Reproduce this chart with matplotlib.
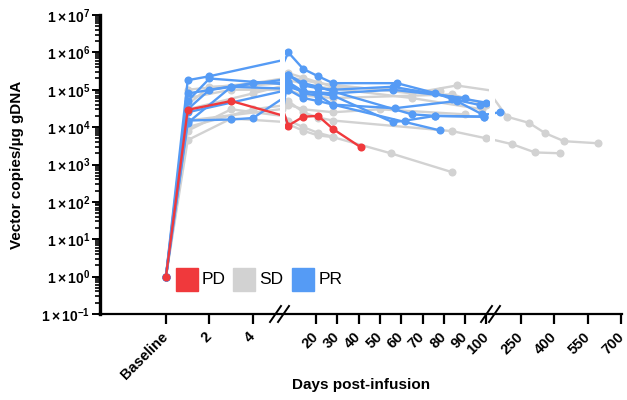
import numpy as np
import matplotlib
matplotlib.use('Agg')
import matplotlib.pyplot as plt
from matplotlib.lines import Line2D
from matplotlib.patches import Rectangle
from matplotlib.ticker import LogLocator, FuncFormatter, NullFormatter

plt.rcParams['font.family'] = ['Liberation Sans', 'DejaVu Sans']
plt.rcParams['mathtext.fontset'] = 'custom'
plt.rcParams['mathtext.rm'] = 'Liberation Sans:bold'
plt.rcParams['mathtext.it'] = 'Liberation Sans:bold'
plt.rcParams['mathtext.bf'] = 'Liberation Sans:bold'

# ---------------- data (days post-infusion, vector copies / ug gDNA) ----------------
pd1_days = [0, 1, 3, 7, 14, 21, 28, 41]
pd1_vcn = [1, 2.9e4, 5.0e4, 1.1e4, 1.9e4, 2.0e4, 8.9e3, 2.9e3]

sd1_days = [0, 1, 3, 7, 14, 21, 28, 55, 84]
sd1_vcn = [1, 4.5e3, 1.7e4, 1.2e4, 8.0e3, 6.0e3, 5.4e3, 2.0e3, 620]
sd2_days = [0, 1, 4, 7, 14, 21, 28, 84, 100, 210, 313, 425]
sd2_vcn = [1, 1.0e4, 3.0e4, 5.0e4, 2.5e4, 1.8e4, 1.5e4, 7.8e3, 5.0e3, 3.5e3, 2.1e3, 2.0e3]
sd3_days = [0, 1, 4, 7, 21, 65, 86, 187, 286, 358, 443, 595]
sd3_vcn = [1, 3.0e4, 8.0e4, 2.2e5, 1.5e5, 8.0e4, 1.3e5, 1.9e4, 1.3e4, 6.9e3, 4.2e3, 3.7e3]
sd4_days = [0, 1, 3, 7, 14, 28, 84, 100]
sd4_vcn = [1, 6.0e4, 1.0e5, 1.0e5, 7.0e4, 6.0e4, 7.5e4, 4.0e4]
sd5_days = [0, 1, 4, 7, 14, 28, 78]
sd5_vcn = [1, 1.0e5, 1.5e5, 2.8e5, 2.1e5, 1.2e5, 9.0e4]
sd6_days = [0, 1, 3, 7, 14, 21, 28]
sd6_vcn = [1, 8.0e3, 3.0e4, 1.5e4, 1.0e4, 7.0e3, 5.5e3]
sd7_days = [0, 1, 2, 4, 7, 21, 65, 98]
sd7_vcn = [1, 4.0e4, 1.2e5, 1.3e5, 1.8e5, 1.2e5, 6.0e4, 3.0e4]
sd8_days = [0, 1, 7, 14, 28, 50, 90]
sd8_vcn = [1, 1.5e4, 4.0e4, 3.0e4, 2.5e4, 3.0e4, 2.2e4]

pr1_days = [0, 1, 2, 7, 14, 21, 28, 58, 76, 84, 97]
pr1_vcn = [1, 1.8e5, 2.3e5, 1.0e6, 3.6e5, 2.3e5, 1.5e5, 1.5e5, 8.1e4, 5.6e4, 3.9e4]
pr2_days = [0, 1, 3, 7, 14, 21, 28, 56, 100]
pr2_vcn = [1, 8.0e4, 1.2e5, 2.5e5, 1.3e5, 1.1e5, 1.0e5, 1.2e5, 4.5e4]
pr3_days = [0, 1, 2, 7, 14, 21, 28, 56, 62, 76, 99]
pr3_vcn = [1, 5.0e4, 2.0e5, 1.2e5, 9.0e4, 8.0e4, 7.0e4, 1.35e4, 1.5e4, 2.0e4, 1.9e4]
pr4_days = [0, 1, 3, 4, 7, 14, 21, 28, 65, 76, 99]
pr4_vcn = [1, 1.5e4, 1.6e4, 1.75e4, 2.5e5, 1.5e5, 1.2e5, 9.0e4, 2.2e4, 2.0e4, 1.9e4]
pr5_days = [0, 1, 3, 7, 14, 21, 28, 78]
pr5_vcn = [1, 1.3e4, 1.2e5, 1.0e5, 6.0e4, 5.0e4, 4.0e4, 8.2e3]
pr6_days = [0, 1, 7, 14, 21, 28, 57, 86, 98, 156]
pr6_vcn = [1, 2.5e4, 1.5e5, 8.0e4, 7.0e4, 4.0e4, 3.2e4, 5.0e4, 2.2e4, 2.5e4]
pr7_days = [0, 1, 2, 4, 7, 14, 28, 56, 90]
pr7_vcn = [1, 3.0e4, 1.0e5, 1.5e5, 1.6e5, 9.0e4, 8.0e4, 1.0e5, 6.0e4]

pd_series = [(pd1_days, pd1_vcn)]
sd_series = [(sd1_days, sd1_vcn), (sd2_days, sd2_vcn), (sd3_days, sd3_vcn), (sd4_days, sd4_vcn),
             (sd5_days, sd5_vcn), (sd6_days, sd6_vcn), (sd7_days, sd7_vcn), (sd8_days, sd8_vcn)]
pr_series = [(pr1_days, pr1_vcn), (pr2_days, pr2_vcn), (pr3_days, pr3_vcn), (pr4_days, pr4_vcn),
             (pr5_days, pr5_vcn), (pr6_days, pr6_vcn), (pr7_days, pr7_vcn)]

seg1_ticks = [0, 2, 4]
seg1_labels = ['Baseline', '2', '4']
seg2_ticks = [20, 30, 40, 50, 60, 70, 80, 90, 100]
seg2_labels = ['20', '30', '40', '50', '60', '70', '80', '90', '100']
seg3_ticks = [250, 400, 550, 700]
seg3_labels = ['250', '400', '550', '700']

group_names = ['PD', 'SD', 'PR']
colors = {'PD': '#F0393C', 'SD': '#D2D2D2', 'PR': '#559BF5'}

# ---------------- layout ----------------
W, H = 627, 400
fig = plt.figure(figsize=(W / 100, H / 100), dpi=100)


def fx(x):
    return x / W


def fy(y):
    return 1 - y / H


y_top, y_bot = 15, 314
ah = (y_bot - y_top) / H
ax1 = fig.add_axes([fx(100), fy(y_bot), (280 - 100) / W, ah])
ax2 = fig.add_axes([fx(285), fy(y_bot), (489 - 285) / W, ah])
ax3 = fig.add_axes([fx(495), fy(y_bot), (622 - 495) / W, ah])
axes = [ax1, ax2, ax3]
ax1.set_xlim(-3.03, 5.24)
ax2.set_xlim(5.45, 101.2)
ax3.set_xlim(133.6, 702.3)

for ax in axes:
    ax.set_facecolor('none')
    ax.set_yscale('log')
    ax.set_ylim(0.1, 1e7)
    for s in ['top', 'right', 'bottom']:
        ax.spines[s].set_visible(False)
    for grp, series in [('SD', sd_series), ('PR', pr_series), ('PD', pd_series)]:
        for d, v in series:
            ax.plot(d, v, color=colors[grp], lw=1.7, marker='o', ms=5.8,
                    markeredgewidth=0, solid_capstyle='round')
    ax.tick_params(axis='x', which='major', direction='out', length=7, width=1.6,
                   pad=8, labelsize=10.5)

for ax in [ax2, ax3]:
    ax.spines['left'].set_visible(False)
    ax.tick_params(axis='y', which='both', left=False, labelleft=False)

for ax, t, l in [(ax1, seg1_ticks, seg1_labels), (ax2, seg2_ticks, seg2_labels),
                 (ax3, seg3_ticks, seg3_labels)]:
    ax.set_xticks(t)
    ax.set_xticklabels(l, rotation=45, ha='right', va='center', rotation_mode='anchor',
                       fontweight='bold', fontsize=10.5)
    ax.xaxis.set_minor_locator(plt.NullLocator())

ax1.spines['left'].set_linewidth(2.4)
ax1.yaxis.set_major_locator(LogLocator(base=10, numticks=20))
ax1.yaxis.set_minor_locator(LogLocator(base=10, subs=np.arange(2, 10), numticks=20))
ax1.yaxis.set_minor_formatter(NullFormatter())
ax1.yaxis.set_major_formatter(FuncFormatter(lambda v, p: r'$1\times10^{%d}$' % round(np.log10(v))))
ax1.tick_params(axis='y', which='major', direction='out', length=6, width=1.4, labelsize=10, pad=1)
ax1.tick_params(axis='y', which='minor', direction='out', length=3.5, width=1.2)

# continuous x-axis line
fig.add_artist(Line2D([fx(99), fx(622)], [fy(y_bot), fy(y_bot)], color='black', lw=1.6))

# break marks
for c in [281, 492]:
    for off in [-6, 2]:
        fig.add_artist(Line2D([fx(c + off - 5), fx(c + off + 6)], [fy(322), fy(306)],
                              color='black', lw=1.4))

# legend
for name, x0, tx in [('PD', 176, 202), ('SD', 233, 259), ('PR', 292, 319)]:
    fig.add_artist(Rectangle((fx(x0), fy(291)), 22 / W, 23 / H, color=colors[name],
                             transform=fig.transFigure))
    fig.text(fx(tx), fy(280), name, fontsize=12.5, va='center', ha='left')

fig.text(fx(361), fy(385), 'Days post-infusion', fontsize=11, fontweight='bold',
         ha='center', va='center')
fig.text(fx(17), fy(165), 'Vector copies/µg gDNA', fontsize=11, fontweight='bold',
         ha='center', va='center', rotation=90)

fig.savefig('out.png', dpi=100)
